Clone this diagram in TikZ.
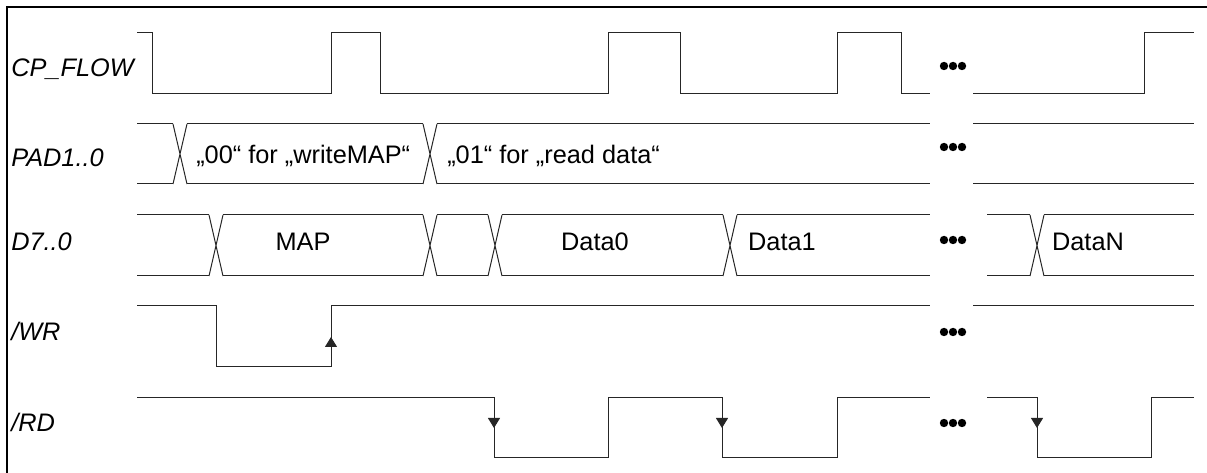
\documentclass[tikz,border=0pt]{standalone}
\usepackage{fontspec}
\setmainfont{Liberation Sans}
\usetikzlibrary{arrows.meta}
\tikzset{
  signal/.style  = { line width=0.75pt, black!85 },
  frame/.style   = { line width=1.5pt, black },
  signame/.style = { anchor=base west, inner sep=0pt, font=\fontsize{19}{22}\selectfont\itshape },
  value/.style   = { anchor=base, inner sep=0pt, font=\fontsize{19}{22}\selectfont },
  edgeup/.style  = { signal, -{Triangle[length=7.5pt,width=9pt]} },
  more/.style    = { circle, fill=black, inner sep=0pt, minimum size=6.3pt },
}

\begin{document}
\begin{tikzpicture}[x=0.75pt,y=-0.75pt]
  \useasboundingbox (0,0) rectangle (1207,473);
  \draw[frame] (1207,7) -- (7,7) -- (7,473);

  % signal names
  \node (cp)  [signame] at (11,77)  {CP\_FLOW};
  \node (pad) [signame] at (11,167) {PAD1..0};
  \node (d)   [signame] at (11,251) {D7..0};
  \node (wr)  [signame] at (11,341) {/WR};
  \node (rd)  [signame] at (11,432) {/RD};

  % CP_FLOW
  \draw[signal] (137,33) -| (152,94) -| (331,33) -| (380,94) -| (608,33) -| (680,94)
                -| (837,33) -| (901,94) -- (930,94);
  \draw[signal] (973,94) -| (1144,33) -- (1194,33);

  % PAD1..0
  \foreach \a/\b in {137/173,187/423,437/930,973/1194}
    \draw[signal] (\a,124) -- (\b,124) (\a,184) -- (\b,184);
  \foreach \c in {180,430}
    \draw[signal] (\c-7,124) -- (\c+7,184) (\c-7,184) -- (\c+7,124);
  \node (padmap)  [value,anchor=base west] at (196,164) {„00“ for „writeMAP“};
  \node (padread) [value,anchor=base west] at (447,164) {„01“ for „read data“};

  % D7..0
  \foreach \a/\b in {137/209,223/423,437/488,502/723,737/930,987/1030,1044/1194}
    \draw[signal] (\a,215) -- (\b,215) (\a,276) -- (\b,276);
  \foreach \c in {216,430,495,730,1037}
    \draw[signal] (\c-7,215) -- (\c+7,276) (\c-7,276) -- (\c+7,215);
  \node (map)   [value] at (303,251)  {MAP};
  \node (data0) [value] at (595,251)  {Data0};
  \node (data1) [value] at (782,251)  {Data1};
  \node (datan) [value] at (1088,251) {DataN};

  % /WR
  \draw[signal] (137,306) -| (216,367) -| (331,306) -- (930,306);
  \draw[signal] (973,306) -- (1194,306);
  \draw[edgeup] (331,367) -- (331,337);

  % /RD
  \draw[signal] (137,398) -| (494,458) -| (608,398) -| (722,458) -| (837,398) -- (930,398);
  \draw[signal] (987,398) -| (1037,458) -| (1151,398) -- (1194,398);
  \foreach \x in {494,722,1037}
    \draw[edgeup] (\x,398) -- (\x,428);

  % gap dots
  \foreach \y in {66,147,240,332,423}
    \foreach \x in {944,953,962}
      \node (dot-\y-\x) [more] at (\x,\y) {};
\end{tikzpicture}
\end{document}
